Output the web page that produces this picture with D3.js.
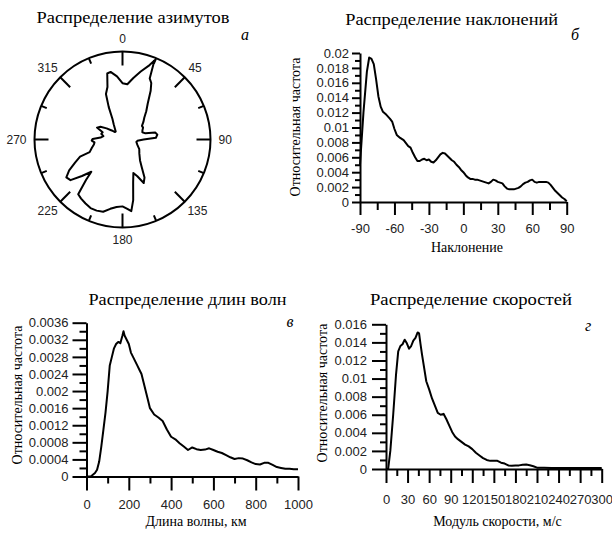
<!DOCTYPE html>
<html><head><meta charset="utf-8">
<script src="https://cdn.jsdelivr.net/npm/d3@7/dist/d3.min.js"></script>
<style>
body{margin:0;background:#fff;}
svg{display:block;}
.tl{font-family:"Liberation Sans",Arial,sans-serif;font-size:13px;fill:#000;}
.ser{font-family:"Liberation Serif","Times New Roman",serif;fill:#000;}
</style></head>
<body>
<svg id="c" width="612" height="533"></svg>
<script>
// ---- data ----
const azimuthDeg  = [0,5,10,15,20,22,24,27,30,35,40,45,50,55,60,65,70,75,78,82,87,90,95,100,110,120,130,140,145,150,154,158,162,166,170,173,176,180,185,190,195,200,205,210,215,219,222,224,228,232,236,240,244,248,249,255,260,264,268,271,275,280,285,290,295,300,305,310,315,320,325,330,334,337,340,344,347,350,355];
const azimuthFreq = [0.64,0.63,0.71,0.80,0.90,0.97,0.76,0.72,0.64,0.50,0.42,0.35,0.31,0.27,0.27,0.25,0.24,0.27,0.38,0.40,0.38,0.24,0.17,0.16,0.18,0.22,0.25,0.31,0.38,0.50,0.55,0.45,0.40,0.50,0.70,0.82,0.79,0.76,0.77,0.80,0.85,0.86,0.86,0.84,0.82,0.80,0.62,0.51,0.62,0.75,0.77,0.70,0.60,0.52,0.40,0.36,0.33,0.32,0.35,0.34,0.25,0.22,0.25,0.24,0.32,0.29,0.22,0.16,0.12,0.12,0.15,0.20,0.26,0.40,0.55,0.62,0.77,0.78,0.72];
const azimuthTicks = [0,45,90,135,180,225,270,315];

const inclDeg  = [-90,-87,-84,-82,-80,-78,-76,-74,-72,-70,-67,-64,-62,-60,-58,-55,-52,-50,-48,-46,-44,-42,-40,-38,-36,-34,-32,-30,-28,-26,-24,-22,-20,-18,-16,-14,-12,-10,-8,-6,-4,-2,0,2,4,6,8,10,12,14,16,18,20,22,24,26,28,30,32,34,36,38,40,42,44,46,48,50,52,54,56,58,60,62,64,66,68,70,72,74,76,78,80,82,84,86,88,90];
const inclFreq = [0.0050,0.0120,0.0175,0.0194,0.0192,0.0185,0.0165,0.0142,0.0128,0.0121,0.0117,0.0112,0.0108,0.0098,0.0090,0.0086,0.0083,0.0079,0.0075,0.0073,0.0066,0.0060,0.0055,0.0055,0.0057,0.0058,0.0056,0.0057,0.0054,0.0053,0.0056,0.0060,0.0064,0.0066,0.0065,0.0062,0.0059,0.0056,0.0054,0.0050,0.0047,0.0043,0.0040,0.0036,0.0033,0.0031,0.0031,0.0030,0.0030,0.0029,0.0028,0.0027,0.0026,0.0025,0.0027,0.0030,0.0029,0.0027,0.0026,0.0025,0.0021,0.0018,0.0017,0.0017,0.0017,0.0018,0.0019,0.0021,0.0024,0.0026,0.0027,0.0029,0.0030,0.0027,0.0026,0.0027,0.0027,0.0027,0.0027,0.0026,0.0023,0.0019,0.0015,0.0012,0.0009,0.0006,0.0004,0.0001];
const inclXTicks = [-90,-60,-30,0,30,60,90];
const inclYTicks = [0,0.002,0.004,0.006,0.008,0.01,0.012,0.014,0.016,0.018,0.02];

const waveKm   = [0,20,40,50,60,70,80,90,100,110,120,130,140,150,160,170,175,180,190,200,210,220,230,240,250,260,270,280,290,300,320,340,360,380,400,420,440,460,480,500,520,540,560,580,600,620,640,660,680,700,720,740,760,780,800,820,840,860,880,900,920,940,960,980,1000];
const waveFreq = [0,0,0.00008,0.00016,0.00035,0.0007,0.0011,0.0015,0.0020,0.0026,0.0028,0.0030,0.0031,0.00315,0.00312,0.0033,0.0034,0.0033,0.0032,0.0031,0.0029,0.0028,0.0027,0.0026,0.0025,0.0024,0.0022,0.0020,0.0018,0.0016,0.00145,0.00138,0.0013,0.0011,0.00093,0.00087,0.00078,0.0007,0.00062,0.00068,0.00064,0.00062,0.00063,0.00066,0.00062,0.00058,0.00055,0.0005,0.00045,0.00041,0.00043,0.00042,0.00038,0.00033,0.00029,0.00028,0.00032,0.00032,0.00027,0.00022,0.0002,0.00018,0.00018,0.00017,0.00017];
const waveXTicks = [0,200,400,600,800,1000];
const waveYTicks = [0,0.0004,0.0008,0.0012,0.0016,0.002,0.0024,0.0028,0.0032,0.0036];

const speedMs   = [0,3,6,10,14,17,20,23,26,29,32,35,38,41,44,46,48,50,53,56,60,64,68,72,76,80,84,88,92,96,100,105,110,115,120,125,130,135,140,145,150,155,160,165,170,175,180,185,190,195,200,205,210,220,230,240,250,260,270,280,290,300];
const speedFreq = [0,0,0.002,0.0060,0.0105,0.0130,0.0136,0.0138,0.0143,0.0139,0.0133,0.0136,0.0142,0.0145,0.0151,0.0150,0.0138,0.0127,0.0112,0.0097,0.0088,0.0078,0.0070,0.0062,0.0060,0.0061,0.0055,0.0048,0.0041,0.0036,0.0033,0.0030,0.0027,0.0025,0.0022,0.0018,0.0015,0.0012,0.0010,0.0009,0.0009,0.0009,0.0007,0.0006,0.0004,0.00035,0.0004,0.0004,0.00048,0.0005,0.00042,0.0003,0.00015,0.00015,0.00012,0.0001,0.0001,0.0001,0.0001,0.0001,0.0001,0.0001];
const speedXTicks = [0,30,60,90,120,150,180,210,240,270,300];
const speedYTicks = [0,0.002,0.004,0.006,0.008,0.01,0.012,0.014,0.016];

const titles = ["Распределение азимутов","Распределение наклонений","Распределение длин волн","Распределение скоростей"];
const letters = ["а","б","в","г"];
const yTitle = "Относительная частота";
const xTitles = ["Наклонение","Длина волны, км","Модуль скорости, м/с"];

// ---- drawing ----
const svg = d3.select("#c");

function title(txt, cx, y, w){
  svg.append("text").attr("class","ser").attr("x",cx).attr("y",y)
    .attr("text-anchor","middle").style("font-size","16px")
    .attr("textLength",w).attr("lengthAdjust","spacingAndGlyphs").text(txt);
}
function letter(txt,x,y){
  svg.append("text").attr("class","ser").attr("x",x).attr("y",y)
    .attr("text-anchor","middle").style("font-size","16px").style("font-style","italic").text(txt);
}

// Polar (a)
(function(){
  const cx=122.5, cy=139.5, R=88;
  const r = d3.scaleLinear().domain([0,1]).range([0,R]);
  const g = svg.append("g").attr("transform",`translate(${cx},${cy})`);
  g.append("circle").attr("r",R).attr("fill","none").attr("stroke","#000").attr("stroke-width",2);
  const minor = d3.range(0,360,22.5);
  g.selectAll("line.t").data(minor).join("line")
    .attr("x1",d=>Math.sin(d*Math.PI/180)*R)
    .attr("y1",d=>-Math.cos(d*Math.PI/180)*R)
    .attr("x2",d=>Math.sin(d*Math.PI/180)*(R-(d%45===0?14:6)))
    .attr("y2",d=>-Math.cos(d*Math.PI/180)*(R-(d%45===0?14:6)))
    .attr("stroke","#000").attr("stroke-width",2);
  const pts = azimuthDeg.map((a,i)=>[a*Math.PI/180, r(azimuthFreq[i])]);
  g.append("path").datum(pts)
    .attr("d", d3.lineRadial().angle(d=>d[0]).radius(d=>d[1]).curve(d3.curveLinearClosed))
    .attr("fill","none").attr("stroke","#000").attr("stroke-width",2).attr("stroke-linejoin","round");
  azimuthTicks.forEach(a=>{
    const t = g.append("text").attr("class","tl").style("font-size","12px").style("fill","#222")
      .attr("text-anchor","middle").attr("dominant-baseline","central").text(String(a));
    const w = t.node().getComputedTextLength(), h=9;
    const s=Math.sin(a*Math.PI/180), c=Math.cos(a*Math.PI/180);
    t.attr("x",(R+8)*s + (w/2)*s).attr("y",-(R+8)*c - (h/2)*c);
  });
  title(titles[0],133,23,193);
  letter(letters[0],245,40);
})();

function cart(o){
  const x = d3.scaleLinear().domain(o.xd).range([o.x0,o.x1]);
  const y = d3.scaleLinear().domain(o.yd).range([o.y0,o.y1]);
  const fmt = d=>String(d);
  svg.append("g").attr("transform",`translate(0,${o.y0})`)
    .call(d3.axisBottom(x).tickValues(o.xMinor).tickSize(o.xMin).tickFormat("").tickSizeOuter(0))
    .call(g=>{g.select(".domain").remove(); g.selectAll("line").attr("stroke-width",2);});
  svg.append("g").attr("transform",`translate(${o.x0},0)`)
    .call(d3.axisLeft(y).tickValues(o.yMinor).tickSize(o.yMin).tickFormat("").tickSizeOuter(0))
    .call(g=>{g.select(".domain").remove(); g.selectAll("line").attr("stroke-width",2);});
  const gx = svg.append("g").attr("transform",`translate(0,${o.y0})`)
    .call(d3.axisBottom(x).tickValues(o.xTicks).tickSize(o.xMaj).tickPadding(o.xPad).tickFormat(fmt).tickSizeOuter(0));
  const gy = svg.append("g").attr("transform",`translate(${o.x0},0)`)
    .call(d3.axisLeft(y).tickValues(o.yTicks).tickSize(o.yMaj).tickPadding(o.yPad).tickFormat(fmt).tickSizeOuter(0));
  [gx,gy].forEach(g=>{
    g.select(".domain").attr("stroke","#000").attr("stroke-width",2);
    g.selectAll(".tick line").attr("stroke","#000").attr("stroke-width",2);
    g.selectAll(".tick text").attr("class","tl").attr("font-size",null).attr("font-family",null).style("fill","#222");
  });
  gx.attr("font-size",null).attr("font-family",null);
  gy.attr("font-size",null).attr("font-family",null);
  const pts = o.xs.map((v,i)=>[v,o.ys[i]]);
  svg.append("path").datum(pts)
    .attr("d", d3.line().x(d=>x(d[0])).y(d=>y(d[1])))
    .attr("fill","none").attr("stroke","#000").attr("stroke-width",2).attr("stroke-linejoin","round");
  svg.append("text").attr("class","ser").style("font-size","14px").attr("text-anchor","middle")
    .attr("x",o.xtx).attr("y",o.xty).text(o.xTitle);
  svg.append("text").attr("class","ser").style("font-size","14px").attr("text-anchor","middle")
    .attr("transform",`translate(${o.ytx},${o.yty}) rotate(-90)`).attr("dominant-baseline","central").text(yTitle);
}

const step = (a,b,s)=>d3.range(a,b+s/2,s);

cart({xd:[-90,90],yd:[0,0.02],x0:360,x1:566.7,y0:202,y1:53,
  xTicks:inclXTicks,xMinor:step(-75,75,30),yTicks:inclYTicks,yMinor:step(0.001,0.019,0.002),
  xMaj:13,xMin:8,yMaj:8,yMin:5,xPad:9,yPad:3,
  xs:inclDeg,ys:inclFreq,xTitle:xTitles[0],xtx:467,xty:252,ytx:295,yty:127});
title(titles[1],451.7,25,213);
letter(letters[1],575,40);

cart({xd:[0,1000],yd:[0,0.0036],x0:86.5,x1:298,y0:476.5,y1:322.7,
  xTicks:waveXTicks,xMinor:step(100,900,200),yTicks:waveYTicks,yMinor:step(0.0002,0.0034,0.0004),
  xMaj:14,xMin:7,yMaj:14,yMin:7,xPad:9,yPad:4,
  xs:waveKm,ys:waveFreq,xTitle:xTitles[1],xtx:196,xty:526,ytx:17,yty:395});
title(titles[2],187.5,305,198);
letter(letters[2],290,327);

cart({xd:[0,300],yd:[0,0.016],x0:386,x1:601.7,y0:469,y1:324.3,
  xTicks:speedXTicks,xMinor:step(15,285,30),yTicks:speedYTicks,yMinor:step(0.001,0.015,0.002),
  xMaj:14,xMin:7,yMaj:14,yMin:6,xPad:12,yPad:5,
  xs:speedMs,ys:speedFreq,xTitle:xTitles[2],xtx:497.5,xty:526,ytx:322,yty:393});
title(titles[3],471,305,202);
letter(letters[3],588,331);
</script>
</body></html>
